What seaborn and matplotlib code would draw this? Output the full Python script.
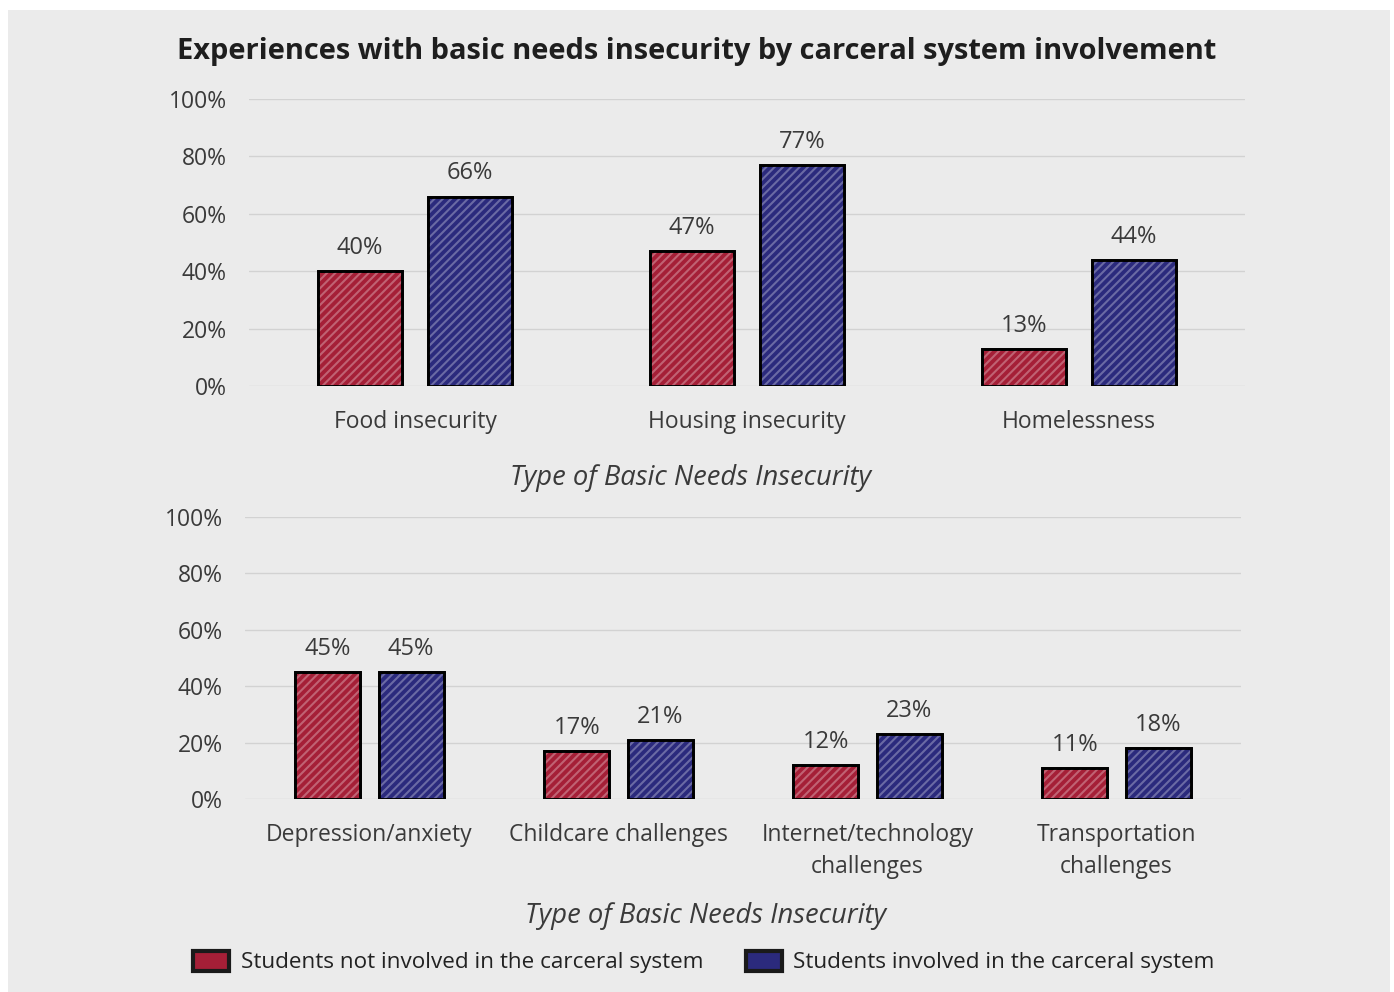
import pandas as pd
import seaborn as sns
import matplotlib.pyplot as plt
from matplotlib.patches import Rectangle, Patch

# Data
groups = ["Students not involved in the carceral system",
          "Students involved in the carceral system"]
top_categories = ["Food insecurity", "Housing insecurity", "Homelessness"]
top_not_involved = [40, 47, 13]
top_involved = [66, 77, 44]

bottom_categories = ["Depression/anxiety", "Childcare challenges",
                     "Internet/technology\nchallenges", "Transportation\nchallenges"]
bottom_not_involved = [45, 17, 12, 11]
bottom_involved = [45, 21, 23, 18]

yticks = [0, 20, 40, 60, 80, 100]
ytick_labels = ["0%", "20%", "40%", "60%", "80%", "100%"]

RED = "#A51F37"
BLUE = "#2B2A7D"
TEXT = "#3a3a3a"


def make_frame(categories, not_involved, involved):
    return pd.DataFrame({
        "category": categories * 2,
        "group": [groups[0]] * len(categories) + [groups[1]] * len(categories),
        "value": not_involved + involved,
    })


sns.set_theme(style="white")
plt.rcParams["font.family"] = ["Open Sans", "DejaVu Sans"]
plt.rcParams["hatch.linewidth"] = 1.5

fig = plt.figure(figsize=(13.94, 9.92), dpi=100, facecolor="white")
# paper-like background
fig.patches.append(Rectangle((8 / 1394, 0), 1382 / 1394, 1 - 10 / 992,
                             transform=fig.transFigure, facecolor="#EBEBEB",
                             edgecolor="none", zorder=-5))

ax_top = fig.add_axes([249 / 1394, 1 - 386 / 992, 996 / 1394, 287 / 992])
ax_bot = fig.add_axes([245 / 1394, 1 - 799 / 992, 996 / 1394, 282 / 992])


def draw_panel(ax, df, width, gap):
    sns.barplot(data=df, x="category", y="value", hue="group",
                palette=[RED, BLUE], width=width, gap=gap,
                edgecolor="black", linewidth=2, ax=ax, legend=False,
                saturation=1, zorder=3)
    ax.set_facecolor("none")
    ax.set_ylim(0, 100)
    ax.set_yticks(yticks)
    ax.set_yticklabels(ytick_labels, fontsize=16.5, color=TEXT)
    ax.tick_params(axis="x", labelsize=16.5, colors=TEXT, length=0, pad=17)
    ax.tick_params(axis="y", length=0, pad=16)
    for lbl in ax.get_xticklabels():
        lbl.set_linespacing(1.45)
    ax.grid(axis="y", color="#d2d2d2", linewidth=1, zorder=0)
    for s in ax.spines.values():
        s.set_visible(False)
    ax.set_ylabel("")
    ax.set_xlabel("Type of Basic Needs Insecurity", fontsize=19.7, style="italic",
                  color=TEXT, va="center")
    # sketchy white hatch on the bars
    for bar in list(ax.patches):
        x, y = bar.get_xy()
        ax.add_patch(Rectangle((x, y), bar.get_width(), bar.get_height(),
                               facecolor="none", edgecolor=(1, 1, 1, 0.3),
                               hatch="////", linewidth=0, zorder=3.5))
        ax.add_patch(Rectangle((x, y), bar.get_width(), bar.get_height(),
                               facecolor="none", edgecolor="black",
                               linewidth=2, zorder=4))
    for container in ax.containers:
        ax.bar_label(container, labels=[f"{v:.0f}%" for v in container.datavalues],
                     padding=8, fontsize=17, color=TEXT)


draw_panel(ax_top, make_frame(top_categories, top_not_involved, top_involved),
           width=0.663, gap=0.237)
draw_panel(ax_bot, make_frame(bottom_categories, bottom_not_involved, bottom_involved),
           width=0.667, gap=0.217)
ax_top.set_xlim(-0.5, 2.5)
ax_bot.set_xlim(-0.5, 3.5)
# axis titles sit left of centre in the reference
ax_top.xaxis.set_label_coords(0.443, -(478 - 386) / 287)
ax_bot.xaxis.set_label_coords(0.462, -(916 - 799) / 282)

fig.text(0.5, 1 - 51 / 992, "Experiences with basic needs insecurity by carceral system involvement",
         ha="center", va="center", fontsize=20.9, fontweight="bold", color="#1e1e1e")

handles = [Patch(facecolor=RED, edgecolor="#1a1a1a", linewidth=3),
           Patch(facecolor=BLUE, edgecolor="#1a1a1a", linewidth=3)]
fig.legend(handles, groups, loc="center", bbox_to_anchor=(0.505, 1 - 962 / 992),
           ncol=2, frameon=False, fontsize=16.2, handlelength=1.6, handleheight=1.0,
           columnspacing=1.9, handletextpad=0.5, labelcolor="#222222")

fig.savefig("out.png", dpi=100, facecolor=fig.get_facecolor())
